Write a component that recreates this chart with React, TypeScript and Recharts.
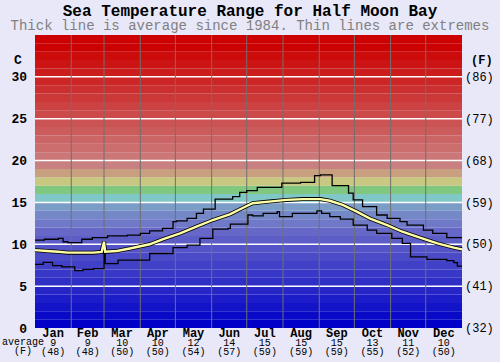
import React from 'react';
import { LineChart, Line, XAxis, YAxis, ReferenceArea, ReferenceLine } from 'recharts';

// month boundaries (day of year) and labels
const monthStarts = [0, 31, 59, 90, 120, 151, 181, 212, 243, 273, 304, 334, 365];
const months = ['Jan', 'Feb', 'Mar', 'Apr', 'May', 'Jun', 'Jul', 'Aug', 'Sep', 'Oct', 'Nov', 'Dec'];
const monthAvgC = [9, 9, 10, 10, 12, 14, 15, 15, 15, 13, 11, 10];
const monthAvgF = [48, 48, 50, 50, 54, 57, 59, 59, 59, 55, 52, 50];

const tempTicks = [0, 5, 10, 15, 20, 25, 30];

// thin line: highest recorded
const maxDays = [0, 8, 20, 24, 28, 40, 49, 62, 79, 90, 98, 109, 118, 121, 130, 138, 144, 154, 169, 175, 181, 190, 211, 227, 239, 244, 254, 268, 272, 280, 292, 301, 312, 318, 332, 340, 352, 365];
const maxTemps = [10.5, 10.6, 10.7, 10.3, 10.2, 10.6, 10.8, 11.0, 11.1, 11.3, 11.6, 11.9, 12.7, 12.8, 13.1, 13.7, 14.2, 15.4, 15.7, 16.2, 16.4, 16.8, 17.3, 17.4, 18.2, 18.3, 17.0, 16.1, 15.3, 14.5, 13.5, 13.1, 12.7, 12.3, 11.7, 11.3, 10.8, 10.8];

// thin line: lowest recorded
const minDays = [0, 7, 15, 23, 34, 41, 50, 59, 60, 71, 98, 118, 130, 141, 152, 165, 167, 182, 186, 195, 207, 209, 220, 241, 245, 252, 261, 272, 284, 292, 305, 314, 321, 335, 352, 358, 361, 365];
const minTemps = [7.6, 7.85, 7.45, 7.3, 6.85, 7.0, 7.1, 10.1, 7.7, 8.1, 8.9, 9.6, 9.9, 10.7, 11.8, 11.9, 12.4, 13.5, 13.4, 13.7, 13.9, 13.3, 13.7, 14.0, 13.7, 13.3, 13.0, 12.3, 11.7, 11.3, 10.7, 10.1, 8.5, 8.2, 8.05, 7.8, 7.4, 7.4];

// thick line: average since 1984
const avgDays = [0, 10, 20, 28, 40, 50, 57, 59, 60, 70, 81, 98, 109, 124, 138, 152, 167, 177, 186, 200, 215, 229, 244, 252, 263, 275, 286, 301, 314, 329, 344, 358, 365];
const avgTemps = [9.3, 9.2, 9.1, 9.0, 9.0, 9.0, 9.1, 10.3, 9.1, 9.2, 9.5, 10.0, 10.6, 11.3, 12.1, 12.9, 13.6, 14.3, 14.9, 15.1, 15.3, 15.4, 15.4, 15.2, 14.7, 13.9, 13.1, 12.3, 11.5, 10.8, 10.1, 9.6, 9.4];

const zip = (days: number[], temps: number[]) => days.map((d, i) => ({ day: d, t: temps[i] }));
const maxData = zip(maxDays, maxTemps);
const minData = zip(minDays, minTemps);
const avgData = zip(avgDays, avgTemps);

const monthMids = months.map((_, i) => (monthStarts[i] + monthStarts[i + 1]) / 2);

// colour of each 1 degree band, 0..35
function bandColor(d: number) {
  if (d < 12) {
    const v = Math.round((d / 12) * 112);
    return `rgb(${v},${v},200)`;
  }
  const mid: Record<number, string> = {
    12: '#7078c8', 13: '#7488c8', 14: '#7c9cc8', 15: '#80c8c8',
    16: '#80c880', 17: '#c8c880', 18: '#c8a080', 19: '#c88080',
  };
  if (mid[d]) return mid[d];
  const g = Math.max(0, 128 - (d - 19) * 9);
  return `rgb(204,${g},${g})`;
}
const bands = Array.from({ length: 35 }, (_, i) => i);

const mono = '"Liberation Mono", "DejaVu Sans Mono", monospace';

const MonthTick = (props: any) => {
  const { x, y, payload } = props;
  const i = monthMids.indexOf(payload.value);
  return (
    <g>
      <text x={x} y={y + 1} textAnchor="middle" fontFamily={mono} fontWeight="bold" fontSize={12} fill="#000">
        {months[i]}
      </text>
      <text x={x} y={y + 10} textAnchor="middle" fontFamily={mono} fontSize={10} fill="#000">
        {monthAvgC[i]}
      </text>
      <text x={x} y={y + 19} textAnchor="middle" fontFamily={mono} fontSize={10} fill="#000">
        ({monthAvgF[i]})
      </text>
    </g>
  );
};

const LeftTick = (props: any) => {
  const { y, payload } = props;
  return (
    <text x={27} y={y} dy="0.35em" textAnchor="end" fontFamily={mono} fontWeight="bold" fontSize={13} fill="#000">
      {payload.value}
    </text>
  );
};

const RightTick = (props: any) => {
  const { y, payload } = props;
  return (
    <text x={465} y={y} dy="0.35em" textAnchor="start" fontFamily={mono} fontSize={12} fill="#000">
      ({Math.round(payload.value * 9 / 5 + 32)})
    </text>
  );
};

export default function App() {
  return (
    <div style={{ position: 'absolute', left: 0, top: 0, width: 500, height: 362, background: '#e8e8f8', overflow: 'hidden' }}>
      <div style={{ position: 'absolute', top: 4, width: 500, textAlign: 'center', fontFamily: mono, fontWeight: 'bold', fontSize: 16, lineHeight: '16px', color: '#000' }}>
        Sea Temperature Range for Half Moon Bay
      </div>
      <div style={{ position: 'absolute', top: 19, width: 500, textAlign: 'center', fontFamily: mono, fontSize: 14, lineHeight: '14px', color: '#808080' }}>
        Thick line is average since 1984. Thin lines are extremes
      </div>
      <div style={{ position: 'absolute', top: 54, left: 14, fontFamily: mono, fontWeight: 'bold', fontSize: 13, lineHeight: '14px' }}>C</div>
      <div style={{ position: 'absolute', top: 54, left: 471, fontFamily: mono, fontWeight: 'bold', fontSize: 12, lineHeight: '14px' }}>(F)</div>
      <div style={{ position: 'absolute', top: 338, left: 2, fontFamily: mono, fontSize: 10, lineHeight: '10px' }}>average</div>
      <div style={{ position: 'absolute', top: 347, left: 14, fontFamily: mono, fontSize: 10, lineHeight: '10px' }}>(F)</div>
      <div style={{ position: 'absolute', left: 0, top: 0 }}>
        <LineChart width={500} height={362} margin={{ top: 35, right: 0, bottom: 0, left: 0 }}>
          <XAxis
            dataKey="day"
            type="number"
            domain={[0, 365]}
            ticks={monthMids}
            interval={0}
            height={34}
            axisLine={false}
            tickLine={false}
            tick={<MonthTick />}
          />
          <YAxis yAxisId="l" domain={[0, 35]} ticks={tempTicks} width={35} axisLine={false} tickLine={false} tick={<LeftTick />} allowDataOverflow />
          <YAxis yAxisId="r" orientation="right" domain={[0, 35]} ticks={tempTicks} width={38} axisLine={false} tickLine={false} tick={<RightTick />} allowDataOverflow />
          {bands.map((d) => (
            <ReferenceArea key={'b' + d} yAxisId="l" x1={0} x2={365} y1={d} y2={d + 1} fill={bandColor(d)} fillOpacity={1} stroke="none" ifOverflow="hidden" />
          ))}
          {tempTicks.slice(1).map((t) => (
            <ReferenceLine key={'h' + t} yAxisId="l" y={t} stroke="#ffffff" strokeWidth={1.5} />
          ))}
          {monthStarts.slice(1, 12).map((d) => (
            <ReferenceLine key={'v' + d} yAxisId="l" x={d} stroke="#707070" strokeWidth={1} />
          ))}
          <Line yAxisId="l" data={maxData} dataKey="t" type="stepAfter" stroke="#000" strokeWidth={1.3} dot={false} isAnimationActive={false} />
          <Line yAxisId="l" data={minData} dataKey="t" type="stepAfter" stroke="#000" strokeWidth={1.3} dot={false} isAnimationActive={false} />
          <Line yAxisId="l" data={avgData} dataKey="t" type="linear" stroke="#000" strokeWidth={4} dot={false} isAnimationActive={false} />
          <Line yAxisId="l" data={avgData} dataKey="t" type="linear" stroke="#ffffa8" strokeWidth={2.4} dot={false} isAnimationActive={false} />
        </LineChart>
      </div>
    </div>
  );
}
